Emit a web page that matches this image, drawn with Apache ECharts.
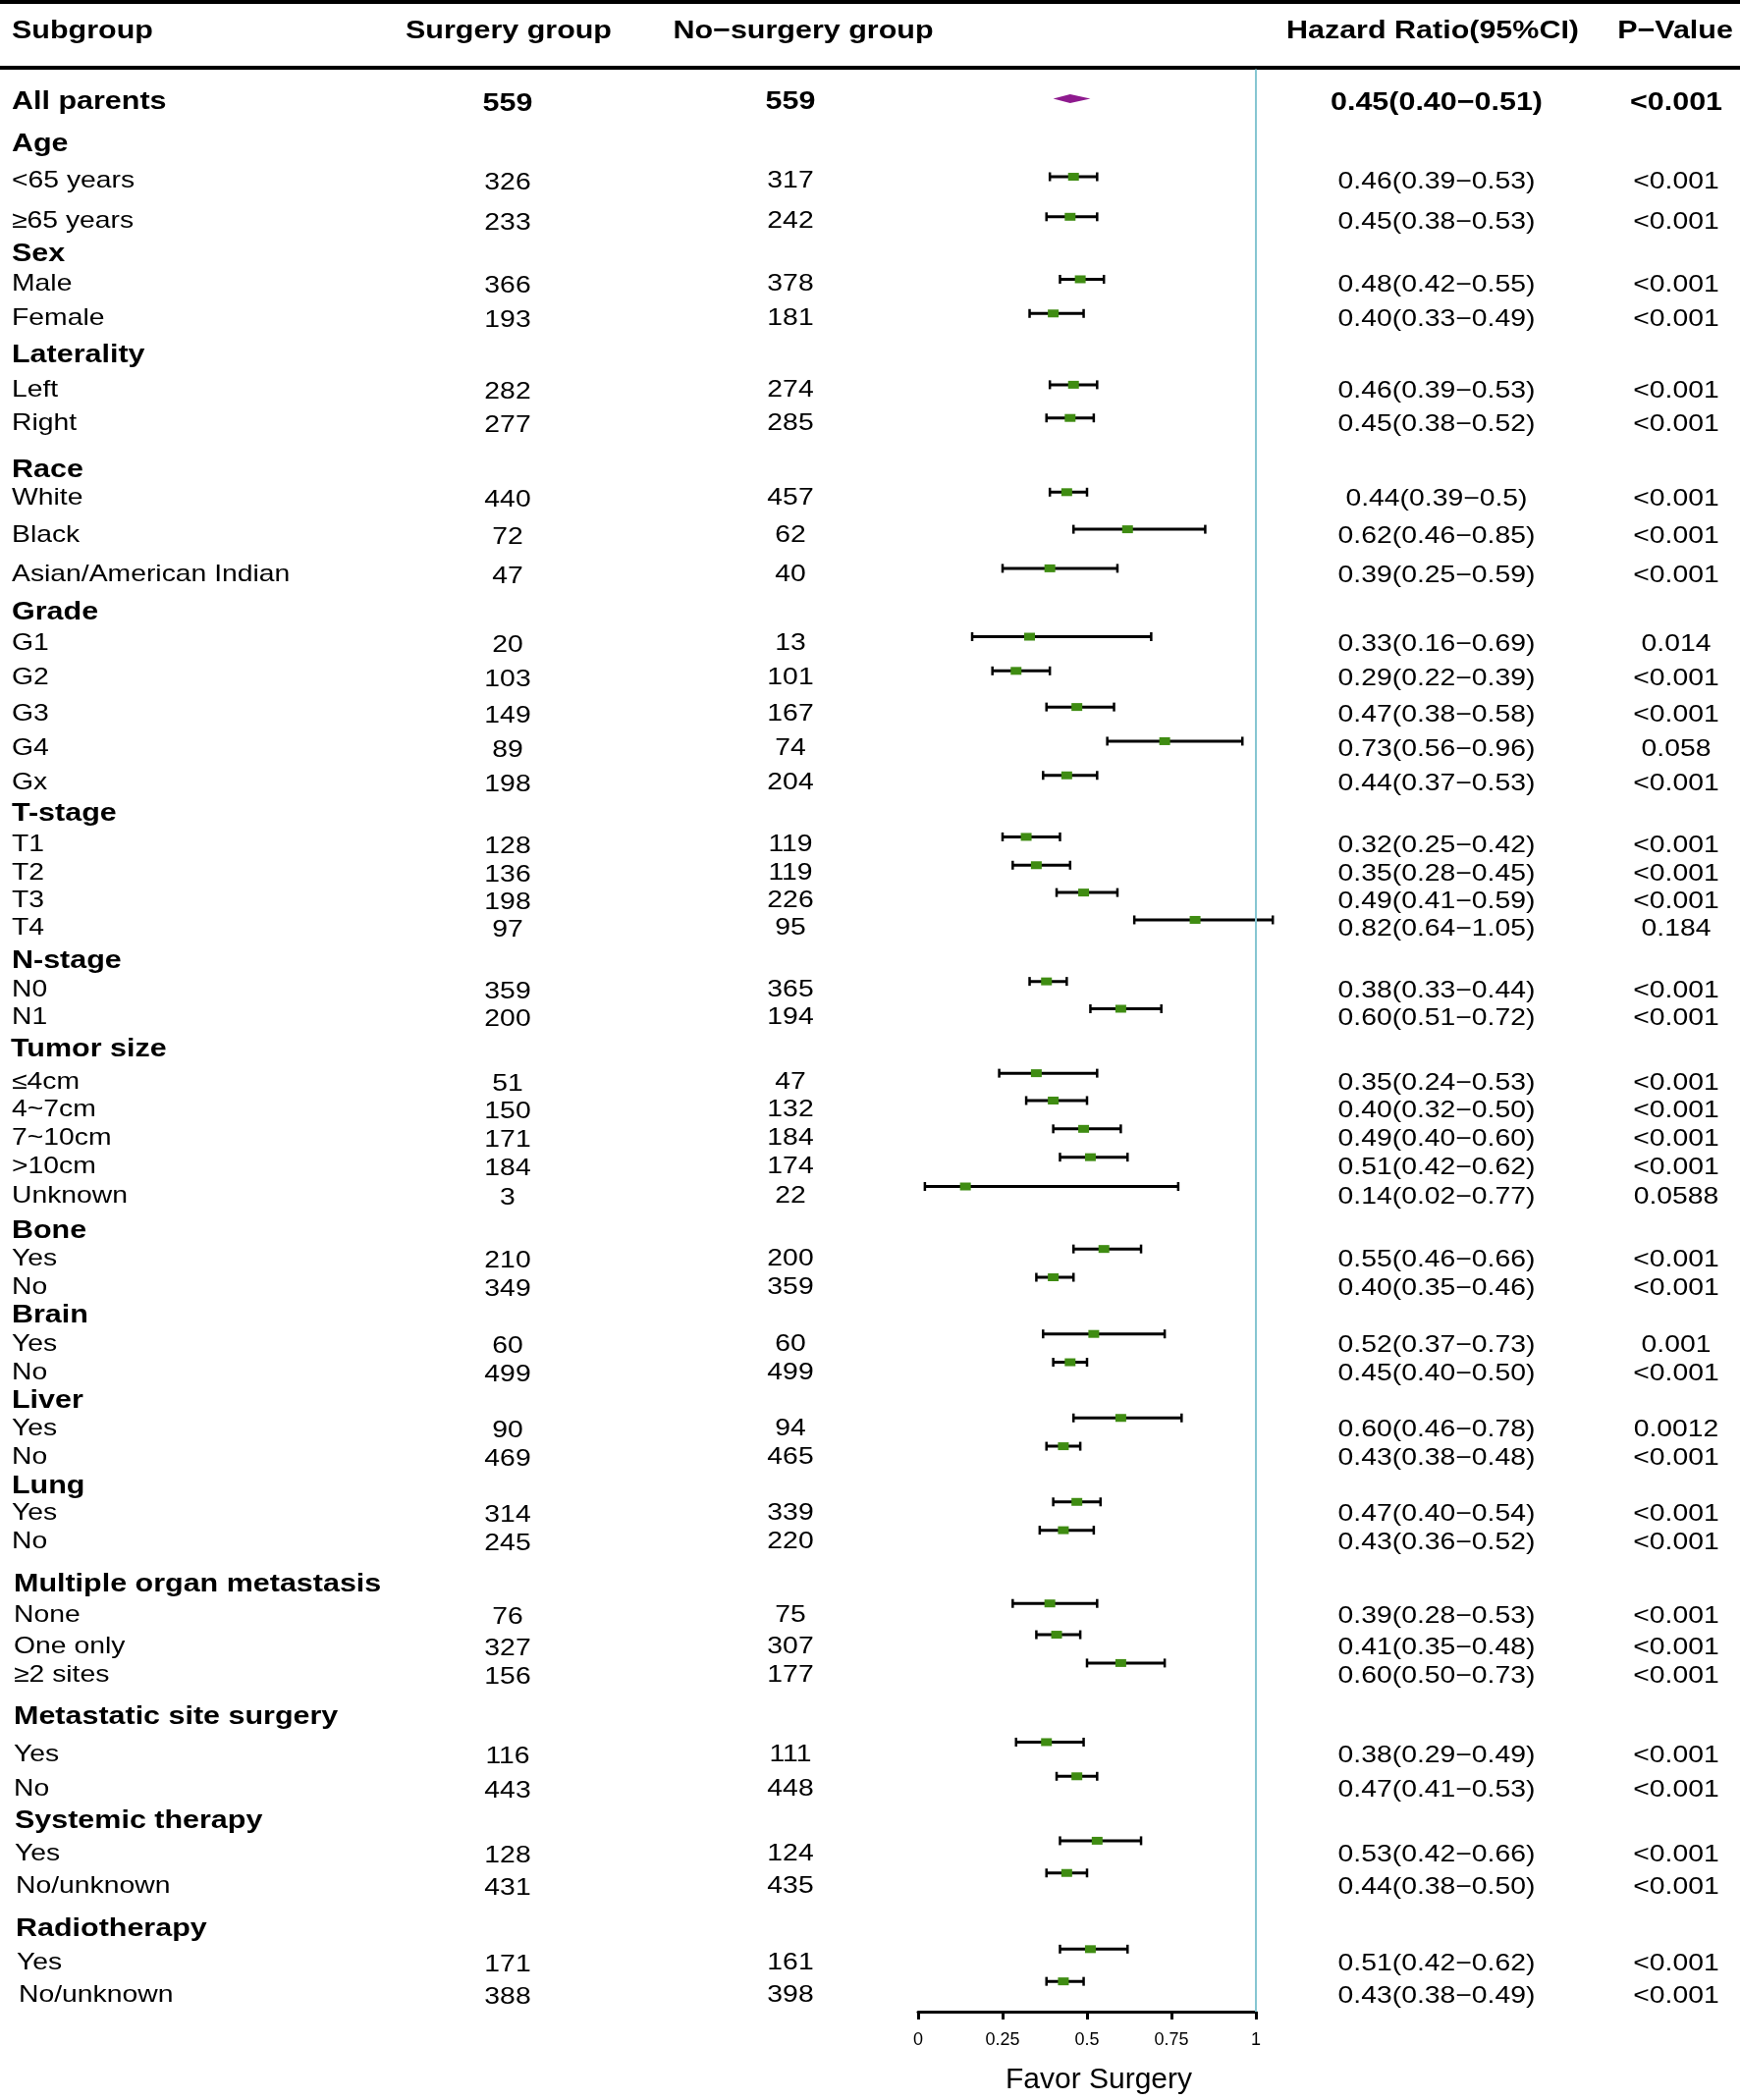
<!DOCTYPE html>
<html>
<head>
<meta charset="utf-8">
<script src="https://cdn.jsdelivr.net/npm/echarts@6/dist/echarts.min.js"></script>
<style>html,body{margin:0;padding:0;background:#fff}#c{width:1772px;height:2139px}</style>
</head>
<body>
<div id="c"></div>
<script>
// ---------------- DATA ----------------
const headers = ['Subgroup', 'Surgery group', 'No\u2212surgery group', 'Hazard Ratio(95%CI)', 'P\u2212Value'];

const labels = [
  'All parents',
  'Age', '<65 years', '\u226565 years',
  'Sex', 'Male', 'Female',
  'Laterality', 'Left', 'Right',
  'Race', 'White', 'Black', 'Asian/American Indian',
  'Grade', 'G1', 'G2', 'G3', 'G4', 'Gx',
  'T-stage', 'T1', 'T2', 'T3', 'T4',
  'N-stage', 'N0', 'N1',
  'Tumor size', '\u22644cm', '4~7cm', '7~10cm', '>10cm', 'Unknown',
  'Bone', 'Yes', 'No',
  'Brain', 'Yes', 'No',
  'Liver', 'Yes', 'No',
  'Lung', 'Yes', 'No',
  'Multiple organ metastasis', 'None', 'One only', '\u22652 sites',
  'Metastatic site surgery', 'Yes', 'No',
  'Systemic therapy', 'Yes', 'No/unknown',
  'Radiotherapy', 'Yes', 'No/unknown'
];

const surgeryN = [
  559,
  null, 326, 233,
  null, 366, 193,
  null, 282, 277,
  null, 440, 72, 47,
  null, 20, 103, 149, 89, 198,
  null, 128, 136, 198, 97,
  null, 359, 200,
  null, 51, 150, 171, 184, 3,
  null, 210, 349,
  null, 60, 499,
  null, 90, 469,
  null, 314, 245,
  null, 76, 327, 156,
  null, 116, 443,
  null, 128, 431,
  null, 171, 388
];

const noSurgeryN = [
  559,
  null, 317, 242,
  null, 378, 181,
  null, 274, 285,
  null, 457, 62, 40,
  null, 13, 101, 167, 74, 204,
  null, 119, 119, 226, 95,
  null, 365, 194,
  null, 47, 132, 184, 174, 22,
  null, 200, 359,
  null, 60, 499,
  null, 94, 465,
  null, 339, 220,
  null, 75, 307, 177,
  null, 111, 448,
  null, 124, 435,
  null, 161, 398
];

const hazardRatio = [
  0.45,
  null, 0.46, 0.45,
  null, 0.48, 0.40,
  null, 0.46, 0.45,
  null, 0.44, 0.62, 0.39,
  null, 0.33, 0.29, 0.47, 0.73, 0.44,
  null, 0.32, 0.35, 0.49, 0.82,
  null, 0.38, 0.60,
  null, 0.35, 0.40, 0.49, 0.51, 0.14,
  null, 0.55, 0.40,
  null, 0.52, 0.45,
  null, 0.60, 0.43,
  null, 0.47, 0.43,
  null, 0.39, 0.41, 0.60,
  null, 0.38, 0.47,
  null, 0.53, 0.44,
  null, 0.51, 0.43
];

const ciLower = [
  0.40,
  null, 0.39, 0.38,
  null, 0.42, 0.33,
  null, 0.39, 0.38,
  null, 0.39, 0.46, 0.25,
  null, 0.16, 0.22, 0.38, 0.56, 0.37,
  null, 0.25, 0.28, 0.41, 0.64,
  null, 0.33, 0.51,
  null, 0.24, 0.32, 0.40, 0.42, 0.02,
  null, 0.46, 0.35,
  null, 0.37, 0.40,
  null, 0.46, 0.38,
  null, 0.40, 0.36,
  null, 0.28, 0.35, 0.50,
  null, 0.29, 0.41,
  null, 0.42, 0.38,
  null, 0.42, 0.38
];

const ciUpper = [
  0.51,
  null, 0.53, 0.53,
  null, 0.55, 0.49,
  null, 0.53, 0.52,
  null, 0.50, 0.85, 0.59,
  null, 0.69, 0.39, 0.58, 0.96, 0.53,
  null, 0.42, 0.45, 0.59, 1.05,
  null, 0.44, 0.72,
  null, 0.53, 0.50, 0.60, 0.62, 0.77,
  null, 0.66, 0.46,
  null, 0.73, 0.50,
  null, 0.78, 0.48,
  null, 0.54, 0.52,
  null, 0.53, 0.48, 0.73,
  null, 0.49, 0.53,
  null, 0.66, 0.50,
  null, 0.62, 0.49
];

const hrText = [
  '0.45(0.40\u22120.51)',
  '', '0.46(0.39\u22120.53)', '0.45(0.38\u22120.53)',
  '', '0.48(0.42\u22120.55)', '0.40(0.33\u22120.49)',
  '', '0.46(0.39\u22120.53)', '0.45(0.38\u22120.52)',
  '', '0.44(0.39\u22120.5)', '0.62(0.46\u22120.85)', '0.39(0.25\u22120.59)',
  '', '0.33(0.16\u22120.69)', '0.29(0.22\u22120.39)', '0.47(0.38\u22120.58)', '0.73(0.56\u22120.96)', '0.44(0.37\u22120.53)',
  '', '0.32(0.25\u22120.42)', '0.35(0.28\u22120.45)', '0.49(0.41\u22120.59)', '0.82(0.64\u22121.05)',
  '', '0.38(0.33\u22120.44)', '0.60(0.51\u22120.72)',
  '', '0.35(0.24\u22120.53)', '0.40(0.32\u22120.50)', '0.49(0.40\u22120.60)', '0.51(0.42\u22120.62)', '0.14(0.02\u22120.77)',
  '', '0.55(0.46\u22120.66)', '0.40(0.35\u22120.46)',
  '', '0.52(0.37\u22120.73)', '0.45(0.40\u22120.50)',
  '', '0.60(0.46\u22120.78)', '0.43(0.38\u22120.48)',
  '', '0.47(0.40\u22120.54)', '0.43(0.36\u22120.52)',
  '', '0.39(0.28\u22120.53)', '0.41(0.35\u22120.48)', '0.60(0.50\u22120.73)',
  '', '0.38(0.29\u22120.49)', '0.47(0.41\u22120.53)',
  '', '0.53(0.42\u22120.66)', '0.44(0.38\u22120.50)',
  '', '0.51(0.42\u22120.62)', '0.43(0.38\u22120.49)'
];

const pValues = [
  '<0.001',
  '', '<0.001', '<0.001',
  '', '<0.001', '<0.001',
  '', '<0.001', '<0.001',
  '', '<0.001', '<0.001', '<0.001',
  '', '0.014', '<0.001', '<0.001', '0.058', '<0.001',
  '', '<0.001', '<0.001', '<0.001', '0.184',
  '', '<0.001', '<0.001',
  '', '<0.001', '<0.001', '<0.001', '<0.001', '0.0588',
  '', '<0.001', '<0.001',
  '', '0.001', '<0.001',
  '', '0.0012', '<0.001',
  '', '<0.001', '<0.001',
  '', '<0.001', '<0.001', '<0.001',
  '', '<0.001', '<0.001',
  '', '<0.001', '<0.001',
  '', '<0.001', '<0.001'
];

const axisTicks = [0, 0.25, 0.5, 0.75, 1];

// ---------------- LAYOUT (positions / styles) ----------------
// vertical position of each row (value on the row axis)
const rowPos = [
  102,
  145, 182, 223,
  257, 287, 322,
  360, 395, 429,
  477, 505, 543, 583,
  622, 653, 688, 725, 760, 795,
  827, 858, 887, 915, 943,
  977, 1006, 1034,
  1067, 1100, 1128, 1157, 1186, 1216,
  1252, 1280, 1309,
  1338, 1367, 1396,
  1425, 1453, 1482,
  1512, 1539, 1568,
  1612, 1643, 1675, 1704,
  1747, 1785, 1820,
  1853, 1886, 1919,
  1963, 1997, 2030
];
// extra left indent of a few subgroup labels (pixels)
const labelIndent = [
  0,
  0, 0, 0,
  0, 0, 0,
  0, 0, 0,
  0, 0, 0, 0,
  0, 0, 0, 0, 0, 0,
  0, 0, 0, 0, 0,
  0, 0, 0,
  -1, 0, 0, 0, 0, 0,
  0, 0, 0,
  0, 0, 0,
  0, 0, 0,
  0, 0, 0,
  2, 2, 2, 2,
  2, 2, 2,
  3, 3, 4,
  4, 5, 7
];
const headerPos = 32;
const TEXT_SHIFT = 2;
const ROW_MAX = 2060;
const colX = { label: 12, surg: 517, nosurg: 805, hr: 1463, p: 1707 };
const headerX = [12, 518, 818, 1459, 1706];
const headerAlign = ['left', 'center', 'center', 'center', 'center'];
const FONT = "'Liberation Sans', Arial, Helvetica, sans-serif";
const BOLD = { size: 26.5, weight: 'bold', sx: 1.15 };
const NORMAL = { size: 24, weight: 'normal', sx: 1.18 };
const GREEN = '#3f8c12';
const PURPLE = '#8e1a8e';
const TEAL = '#86c6d2';

// ---------------- BUILD ----------------
const texts = [];
function addText(x, y, text, align, st) {
  if (text === '' || text === null || text === undefined) return;
  texts.push({ x: x, y: y, text: String(text), align: align, st: st });
}
headers.forEach((h, i) => addText(headerX[i], headerPos, h, headerAlign[i], BOLD));
labels.forEach((lab, i) => {
  const isGroup = hazardRatio[i] === null;
  const bold = isGroup || i === 0;
  const st = bold ? BOLD : NORMAL;
  const y = rowPos[i] + TEXT_SHIFT;
  addText(colX.label + labelIndent[i], y, lab, 'left', st);
  addText(colX.surg, y + 2, surgeryN[i], 'center', st);
  addText(colX.nosurg, y, noSurgeryN[i], 'center', st);
  addText(colX.hr, y + 1, hrText[i], 'center', st);
  addText(colX.p, y + 1, pValues[i], 'center', st);
});
const textData = texts.map((t, i) => [t.x, t.y, i]);

const forestData = [];
labels.forEach((lab, i) => {
  if (hazardRatio[i] === null) return;
  forestData.push([ciLower[i], ciUpper[i], hazardRatio[i], rowPos[i], i === 0 ? 1 : 0]);
});

const chart = echarts.init(document.getElementById('c'), null, { renderer: 'canvas' });
chart.setOption({
  animation: false,
  backgroundColor: '#fff',
  grid: [
    { left: 0, width: 1772, top: 0, height: ROW_MAX },
    { left: 935, width: 344, top: 0, height: ROW_MAX }
  ],
  xAxis: [
    { gridIndex: 0, type: 'value', min: 0, max: 1772, show: false },
    {
      gridIndex: 1, type: 'value', min: 0, max: 1, interval: 0.25,
      axisLine: { show: true, onZero: false, lineStyle: { color: '#000', width: 3 } },
      axisTick: { show: true, length: 8, lineStyle: { color: '#000', width: 3 } },
      axisLabel: {
        color: '#000', fontSize: 18, fontFamily: FONT, margin: 20,
        formatter: v => (axisTicks.indexOf(v) >= 0 ? String(v) : '')
      },
      splitLine: { show: false },
      name: 'Favor Surgery', nameLocation: 'middle', nameGap: 55,
      nameTextStyle: { color: '#000', fontSize: 30, fontFamily: FONT, padding: [0, 0, 0, 24] }
    }
  ],
  yAxis: [
    { gridIndex: 0, type: 'value', inverse: true, min: 0, max: ROW_MAX, show: false },
    { gridIndex: 1, type: 'value', inverse: true, min: 0, max: ROW_MAX, show: false }
  ],
  series: [
    {
      type: 'line', xAxisIndex: 0, yAxisIndex: 0, silent: true, symbol: 'none',
      data: [[0, 2], [1772, 2]], lineStyle: { color: '#000', width: 4 }
    },
    {
      type: 'line', xAxisIndex: 0, yAxisIndex: 0, silent: true, symbol: 'none',
      data: [[0, 69], [1772, 69]], lineStyle: { color: '#000', width: 4 }
    },
    {
      type: 'line', xAxisIndex: 1, yAxisIndex: 1, silent: true, symbol: 'none',
      data: [[1, 71], [1, ROW_MAX]], lineStyle: { color: TEAL, width: 2 }
    },
    {
      type: 'custom', xAxisIndex: 0, yAxisIndex: 0, silent: true,
      encode: { x: 0, y: 1 },
      data: textData,
      renderItem: function (params, api) {
        const t = texts[api.value(2)];
        const p = api.coord([api.value(0), api.value(1)]);
        return {
          type: 'text', x: p[0], y: p[1], scaleX: t.st.sx, scaleY: 1,
          style: {
            text: t.text, fill: '#000',
            fontSize: t.st.size, fontWeight: t.st.weight, fontFamily: FONT,
            align: t.align, verticalAlign: 'middle'
          }
        };
      }
    },
    {
      type: 'custom', xAxisIndex: 1, yAxisIndex: 1, silent: true, clip: false,
      encode: { x: [0, 1, 2], y: 3 },
      data: forestData,
      renderItem: function (params, api) {
        const lo = api.coord([api.value(0), api.value(3)]);
        const hi = api.coord([api.value(1), api.value(3)]);
        const m = api.coord([api.value(2), api.value(3)]);
        const y = m[1] - 1;
        if (api.value(4) === 1) {
          return {
            type: 'polygon',
            shape: { points: [[lo[0], y], [m[0], y - 4.5], [hi[0], y], [m[0], y + 4.5]] },
            style: { fill: PURPLE }
          };
        }
        return {
          type: 'group',
          children: [
            { type: 'line', shape: { x1: lo[0], y1: y, x2: hi[0], y2: y }, style: { stroke: '#000', lineWidth: 3 } },
            { type: 'line', shape: { x1: lo[0], y1: y - 4.5, x2: lo[0], y2: y + 4.5 }, style: { stroke: '#000', lineWidth: 2.5 } },
            { type: 'line', shape: { x1: hi[0], y1: y - 4.5, x2: hi[0], y2: y + 4.5 }, style: { stroke: '#000', lineWidth: 2.5 } },
            { type: 'rect', shape: { x: m[0] - 5.5, y: y - 4, width: 11, height: 8 }, style: { fill: GREEN } }
          ]
        };
      }
    }
  ]
});
</script>
</body>
</html>
